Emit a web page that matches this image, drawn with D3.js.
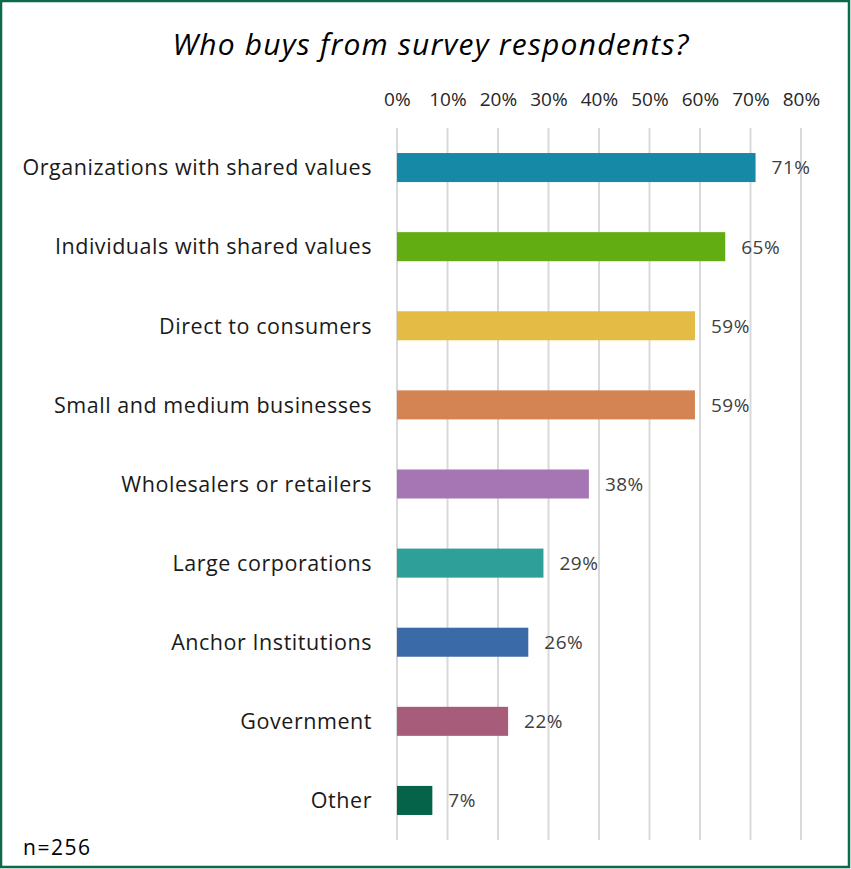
<!DOCTYPE html>
<html>
<head>
<meta charset="utf-8">
<script src="https://cdn.jsdelivr.net/npm/d3@7"></script>
<style>
  html, body { margin: 0; padding: 0; background: #fff; }
  svg { display: block; }
  text { font-family: "Open Sans", Lato, sans-serif; }
</style>
</head>
<body>
<svg id="chart" width="851" height="869"></svg>
<script>
// Survey: who buys from respondents (share of respondents, %)
const categories = [
  "Organizations with shared values",
  "Individuals with shared values",
  "Direct to consumers",
  "Small and medium businesses",
  "Wholesalers or retailers",
  "Large corporations",
  "Anchor Institutions",
  "Government",
  "Other"
];
const values = [71, 65, 59, 59, 38, 29, 26, 22, 7];
const barColors = [
  "#1689a6", "#62ad12", "#e3bb45", "#d48452", "#a576b3",
  "#2f9f9a", "#3a6ba8", "#a75d7a", "#05634a"
];
const tickValues = [0, 10, 20, 30, 40, 50, 60, 70, 80];
const title = "Who buys from survey respondents?";
const sampleNote = "n=256";

const W = 851, H = 869;
const svg = d3.select("#chart");

// frame
svg.append("rect")
  .attr("x", 1).attr("y", 1)
  .attr("width", W - 3).attr("height", H - 3)
  .attr("fill", "#fff")
  .attr("stroke", "#0b6a4a")
  .attr("stroke-width", 2.5);

const x = d3.scaleLinear().domain([0, 80]).range([397, 801]);
const y = d3.scaleBand().domain(categories).range([128, 840]).paddingInner(0.633).paddingOuter(0.3165);

// vertical gridlines
svg.append("g").selectAll("line")
  .data(tickValues)
  .join("line")
  .attr("x1", d => x(d)).attr("x2", d => x(d))
  .attr("y1", 128).attr("y2", 840)
  .attr("stroke", "#d9d9d9")
  .attr("stroke-width", 2);

// top axis labels
const axis = d3.axisTop(x)
  .tickValues(tickValues)
  .tickFormat(d => d + "%")
  .tickSize(0)
  .tickPadding(0);
const gAxis = svg.append("g").attr("transform", "translate(0,106)").call(axis);
gAxis.select(".domain").remove();
gAxis.selectAll("text")
  .attr("dy", 0)
  .style("font-family", "'Open Sans', sans-serif")
  .style("font-size", "19px")
  .style("letter-spacing", "0.1px")
  .attr("fill", "#262626");

// bars
svg.append("g").selectAll("rect")
  .data(values)
  .join("rect")
  .attr("x", x(0))
  .attr("y", (d, i) => y(categories[i]))
  .attr("width", d => x(d) - x(0))
  .attr("height", y.bandwidth())
  .attr("fill", (d, i) => barColors[i]);

// value labels
svg.append("g").selectAll("text")
  .data(values)
  .join("text")
  .attr("x", d => x(d) + 16)
  .attr("y", (d, i) => y(categories[i]) + y.bandwidth() / 2)
  .attr("dy", "0.36em")
  .attr("fill", "#404040")
  .style("font-size", "19px")
  .style("letter-spacing", "0.5px")
  .text(d => d + "%");

// category labels
svg.append("g").selectAll("text")
  .data(categories)
  .join("text")
  .attr("x", 372)
  .attr("y", d => y(d) + y.bandwidth() / 2)
  .attr("dy", "0.36em")
  .attr("text-anchor", "end")
  .attr("fill", "#1a1a1a")
  .style("font-size", "21.5px")
  .style("letter-spacing", "0.55px")
  .text(d => d);

// title
svg.append("text")
  .attr("x", 431).attr("y", 55)
  .attr("text-anchor", "middle")
  .attr("fill", "#000")
  .style("font-size", "30px")
  .style("font-style", "italic")
  .style("letter-spacing", "1.2px")
  .text(title);

// sample size
svg.append("text")
  .attr("x", 23).attr("y", 855)
  .attr("fill", "#000")
  .style("font-size", "21px")
  .style("letter-spacing", "1.5px")
  .text(sampleNote);
</script>
</body>
</html>
